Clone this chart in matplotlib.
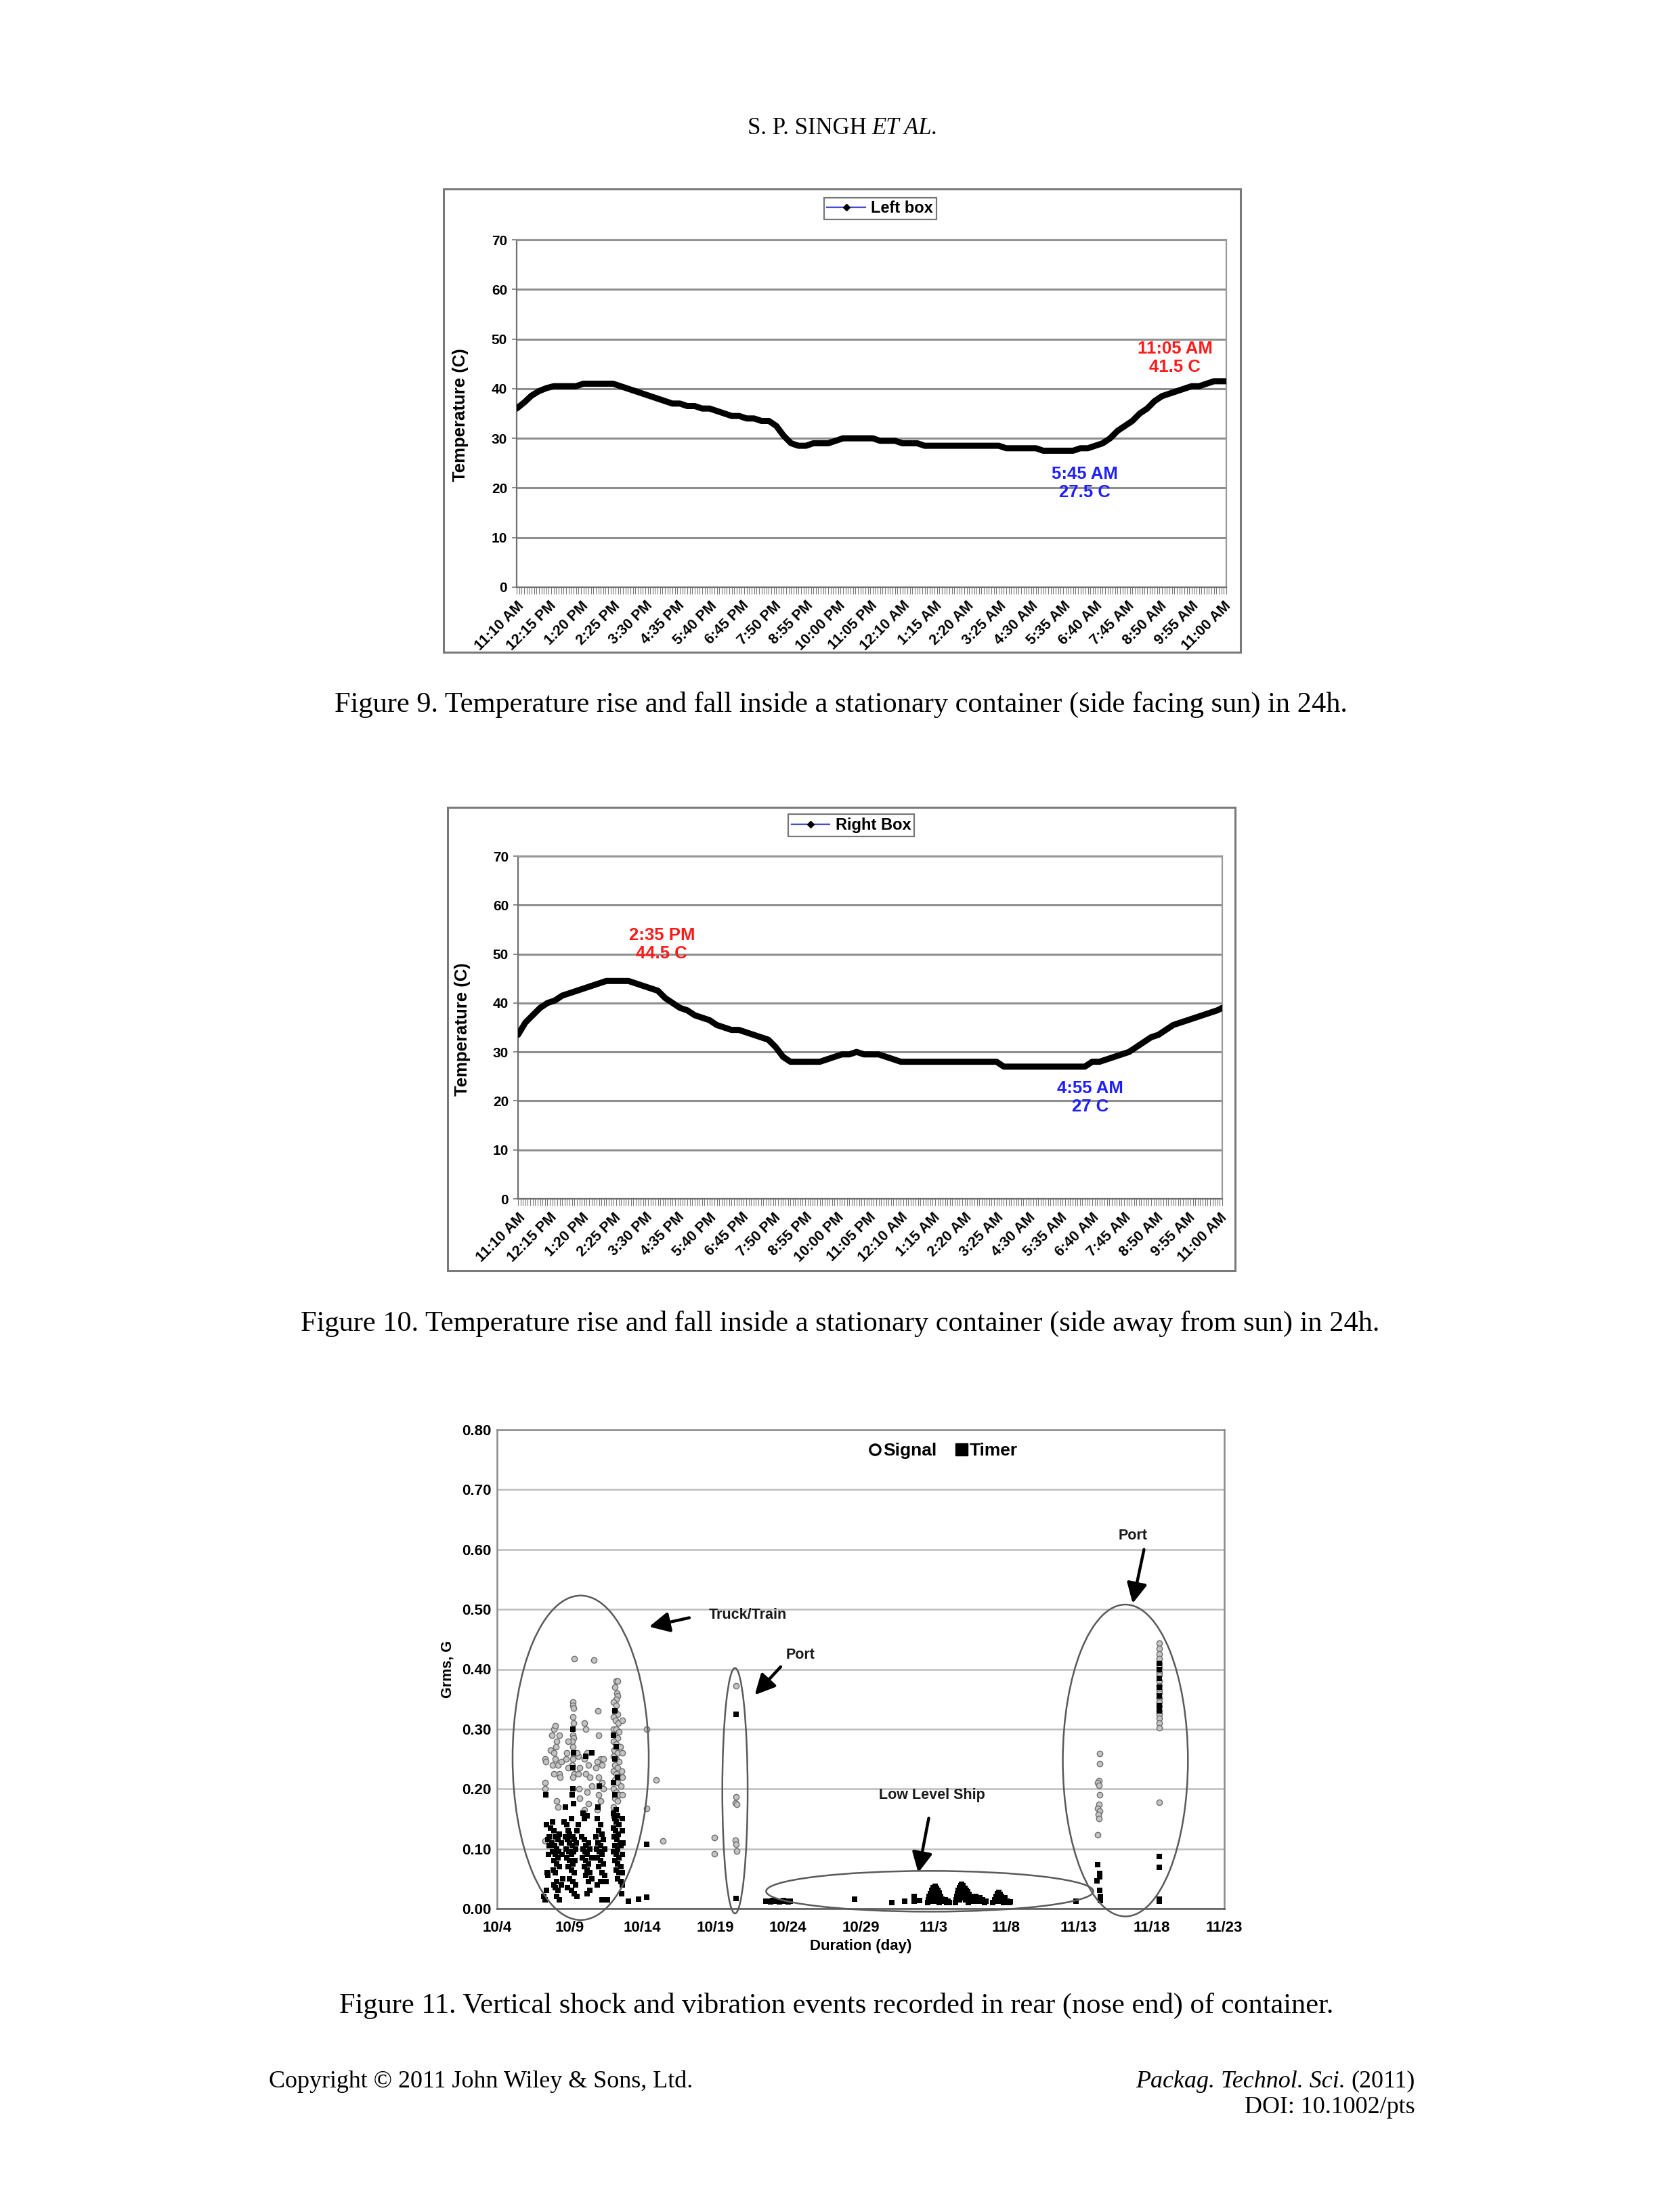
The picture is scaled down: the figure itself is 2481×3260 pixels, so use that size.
import numpy as np
import matplotlib
matplotlib.use("Agg")
import matplotlib.pyplot as plt
from matplotlib.patches import Ellipse, Rectangle
from matplotlib.lines import Line2D

plt.rcParams['font.family'] = ['Liberation Sans', 'DejaVu Sans']
plt.rcParams['font.weight'] = 'bold'
SERIF = ['Liberation Serif', 'DejaVu Serif']

# ---------------- Figures 9 and 10: temperature over 24 h ----------------
time_labels = ["11:10 AM", "12:15 PM", "1:20 PM", "2:25 PM", "3:30 PM", "4:35 PM",
               "5:40 PM", "6:45 PM", "7:50 PM", "8:55 PM", "10:00 PM", "11:05 PM",
               "12:10 AM", "1:15 AM", "2:20 AM", "3:25 AM", "4:30 AM", "5:35 AM",
               "6:40 AM", "7:45 AM", "8:50 AM", "9:55 AM", "11:00 AM"]
label_every = 65          # minutes between labelled categories
log_every = 5             # logger interval, minutes
minutes = list(range(0, 1426, 15)) + [1435]   # minutes after 11:10 AM

left_box = [36.0, 37.2, 38.6, 39.5, 40.1, 40.5, 40.5, 40.5, 40.5, 41.0, 41.0, 41.0,
            41.0, 41.0, 40.5, 40.0, 39.5, 39.0, 38.5, 38.0, 37.5, 37.0, 37.0, 36.5,
            36.5, 36.0, 36.0, 35.5, 35.0, 34.5, 34.5, 34.0, 34.0, 33.5, 33.5, 32.5,
            30.5, 29.0, 28.5, 28.5, 29.0, 29.0, 29.0, 29.5, 30.0, 30.0, 30.0, 30.0,
            30.0, 29.5, 29.5, 29.5, 29.0, 29.0, 29.0, 28.5, 28.5, 28.5, 28.5, 28.5,
            28.5, 28.5, 28.5, 28.5, 28.5, 28.5, 28.0, 28.0, 28.0, 28.0, 28.0, 27.5,
            27.5, 27.5, 27.5, 27.5, 28.0, 28.0, 28.5, 29.0, 30.0, 31.5, 32.5, 33.5,
            35.0, 36.0, 37.5, 38.5, 39.0, 39.5, 40.0, 40.5, 40.5, 41.0, 41.5, 41.5,
            41.5]

right_box = [33.5, 36.0, 37.5, 39.0, 40.0, 40.5, 41.5, 42.0, 42.5, 43.0, 43.5, 44.0,
             44.5, 44.5, 44.5, 44.5, 44.0, 43.5, 43.0, 42.5, 41.0, 40.0, 39.0, 38.5,
             37.5, 37.0, 36.5, 35.5, 35.0, 34.5, 34.5, 34.0, 33.5, 33.0, 32.5, 31.0,
             29.0, 28.0, 28.0, 28.0, 28.0, 28.0, 28.5, 29.0, 29.5, 29.5, 30.0, 29.5,
             29.5, 29.5, 29.0, 28.5, 28.0, 28.0, 28.0, 28.0, 28.0, 28.0, 28.0, 28.0,
             28.0, 28.0, 28.0, 28.0, 28.0, 28.0, 27.0, 27.0, 27.0, 27.0, 27.0, 27.0,
             27.0, 27.0, 27.0, 27.0, 27.0, 27.0, 28.0, 28.0, 28.5, 29.0, 29.5, 30.0,
             31.0, 32.0, 33.0, 33.5, 34.5, 35.5, 36.0, 36.5, 37.0, 37.5, 38.0, 38.5,
             39.0]

# ---------------- Figure 11: Grms events (day 0 = 10/4) ----------------
day_labels = ["10/4", "10/9", "10/14", "10/19", "10/24", "10/29", "11/3", "11/8",
              "11/13", "11/18", "11/23"]

truck_signal = [
    (3.3, .25), (3.35, .245), (3.3, .21), (3.3, .20), (3.3, .113),
    (3.9, .30), (4.0, .305), (4.3, .29), (3.75, .29), (4.1, .28), (4.05, .27), (3.7, .265),
    (3.9, .26), (4.0, .25), (3.8, .24), (4.2, .24), (4.3, .225), (4.4, .245), (3.9, .225),
    (4.35, .22), (4.1, .18), (4.2, .17),
    (5.2, .345), (5.2, .34), (5.25, .335), (5.2, .32), (5.25, .31), (5.2, .29), (5.25, .285),
    (5.15, .28), (5.2, .27), (5.25, .255), (5.2, .25), (5.15, .24), (5.3, .225), (5.2, .22),
    (4.9, .28), (4.8, .26), (4.75, .25), (4.9, .235),
    (5.6, .255), (5.5, .26), (5.7, .235), (5.6, .225), (5.65, .20), (5.7, .185),
    (6.0, .31), (6.1, .30), (6.2, .26), (6.0, .25), (6.3, .24), (6.1, .225), (6.4, .22),
    (6.2, .195), (6.5, .205), (6.3, .175), (6.0, .165),
    (6.95, .33), (7.0, .29), (7.1, .25), (6.9, .245), (7.2, .24), (7.3, .25), (7.0, .22),
    (6.8, .235), (7.2, .21), (7.0, .19), (7.1, .18), (6.9, .165), (7.3, .20),
    (5.3, .417), (6.65, .415),
    (8.2, .38), (8.3, .38), (8.1, .37), (8.25, .36), (8.3, .355), (8.2, .35), (8.0, .345),
    (8.2, .34), (8.1, .33), (8.3, .325), (8.0, .32), (8.15, .315), (8.35, .31), (8.6, .315),
    (8.0, .30), (8.2, .30), (8.4, .295), (8.1, .29), (8.3, .285), (8.0, .28), (8.2, .275),
    (8.45, .27), (8.05, .265), (8.3, .26), (8.6, .26), (8.0, .255), (8.2, .25), (8.4, .245),
    (8.1, .24), (8.3, .235), (8.55, .23), (8.0, .23), (8.2, .225), (8.4, .22), (8.6, .22),
    (8.1, .215), (8.3, .21), (8.5, .205), (8.0, .20), (8.2, .195), (8.4, .19), (8.6, .19),
    (8.1, .185), (8.3, .18), (8.0, .17),
    (10.3, .30), (10.3, .167), (10.95, .215), (11.4, .113)]

truck_timer = [
    (3.2, .02), (3.3, .015), (3.4, .03), (3.5, .055), (3.45, .06), (3.55, .09), (3.6, .105),
    (3.5, .115), (3.6, .12), (3.4, .14), (3.7, .135),
    (3.8, .145), (3.9, .13), (4.0, .12), (3.75, .11), (3.95, .105), (4.1, .10), (3.8, .095),
    (4.0, .09), (4.2, .085), (3.9, .08), (4.1, .075), (4.3, .07), (3.85, .065), (4.0, .06),
    (4.2, .115), (4.3, .125), (4.4, .11), (4.25, .095), (4.45, .09), (4.1, .045), (4.0, .035),
    (4.2, .03), (4.1, .02), (3.9, .04), (4.4, .04), (4.5, .05),
    (4.6, .145), (4.8, .14), (4.9, .13), (5.0, .125), (5.1, .15), (5.2, .12), (4.7, .12),
    (4.85, .115), (5.0, .11), (5.15, .105), (5.3, .115), (4.75, .10), (4.95, .095), (5.1, .09),
    (5.25, .095), (5.4, .10), (4.8, .085), (5.0, .08), (5.2, .075), (5.35, .08), (4.9, .07),
    (5.1, .065), (5.3, .06), (5.0, .05), (5.2, .045), (5.4, .04), (4.85, .035), (5.3, .025),
    (5.5, .02), (5.1, .03), (5.6, .14), (5.5, .13), (5.45, .11),
    (5.9, .16), (6.0, .15), (6.2, .155), (5.8, .12), (6.0, .115), (6.1, .105), (6.3, .11),
    (5.9, .10), (6.05, .095), (6.2, .09), (6.4, .10), (5.85, .085), (6.1, .08), (6.3, .075),
    (6.5, .085), (6.0, .07), (6.2, .065), (6.4, .06), (6.1, .055), (6.3, .045), (6.5, .05),
    (6.4, .03), (6.2, .025),
    (6.9, .15), (7.1, .14), (7.0, .13), (6.8, .12), (7.2, .125), (6.95, .11), (7.1, .105),
    (7.3, .115), (6.85, .10), (7.05, .095), (7.2, .09), (7.4, .10), (6.9, .085), (7.1, .08),
    (7.3, .075), (7.0, .07), (7.2, .06), (7.4, .055), (7.1, .045), (7.3, .045), (6.9, .04),
    (7.5, .045), (7.2, .015), (7.6, .015),
    (8.0, .16), (8.1, .15), (8.3, .155), (8.2, .145), (8.4, .14), (8.0, .135), (8.15, .13),
    (8.35, .125), (8.05, .12), (8.25, .115), (8.45, .11), (8.1, .105), (8.3, .10), (8.5, .105),
    (8.0, .095), (8.2, .09), (8.4, .085), (8.6, .09), (8.1, .08), (8.3, .075), (8.5, .07),
    (8.2, .065), (8.4, .06), (8.6, .06), (8.3, .05), (8.5, .045), (8.6, .04), (8.55, .025),
    (8.6, .13), (8.65, .11), (8.6, .15),
    (5.2, .30), (5.25, .26), (5.2, .235), (5.15, .19), (5.2, .20), (5.25, .175), (6.5, .26),
    (6.1, .255), (8.1, .33), (8.0, .29), (8.2, .27), (8.1, .25), (8.3, .22), (8.0, .21),
    (8.1, .19), (8.2, .165), (8.05, .155), (3.35, .19), (4.7, .17), (7.05, .205), (6.95, .17),
    (9.05, .012), (9.75, .016), (10.3, .019), (4.3, .015), (10.27, .108)]

port1_signal = [(16.45, .372), (16.45, .187), (16.37, .176), (16.47, .174), (14.95, .119),
                (14.95, .092), (16.37, .114), (16.45, .108), (16.47, .096)]
port1_timer = [(16.45, .325), (16.45, .017)]

ship_timer = [
    (18.5, .012), (18.65, .013), (18.8, .011), (18.95, .014), (19.1, .012), (19.25, .013),
    (19.4, .011), (19.55, .012), (19.7, .014), (19.85, .012), (20.0, .011), (20.15, .012),
    (24.57, .016), (27.13, .010), (28.03, .012), (28.68, .020), (28.68, .012), (29.07, .014),
    (29.6, .010), (29.65, .015), (29.7, .02), (29.75, .012), (29.8, .025), (29.85, .018),
    (29.9, .03), (29.95, .022), (30.0, .035), (30.05, .028), (30.1, .037), (30.15, .03),
    (30.2, .034), (30.25, .025), (30.3, .03), (30.35, .02), (30.4, .026), (30.45, .015),
    (30.5, .02), (30.55, .012), (30.6, .016), (30.7, .012), (30.8, .015), (30.9, .01),
    (31.0, .012), (31.1, .01), (30.0, .015), (30.2, .012), (30.4, .01), (29.9, .012),
    (30.1, .02), (30.3, .015),
    (31.5, .01), (31.55, .015), (31.6, .02), (31.65, .025), (31.7, .03), (31.75, .022),
    (31.8, .035), (31.85, .028), (31.9, .038), (31.95, .041), (32.0, .034), (32.05, .038),
    (32.1, .03), (32.15, .034), (32.2, .026), (32.25, .031), (32.3, .022), (32.35, .028),
    (32.4, .018), (32.45, .024), (32.5, .015), (32.55, .02), (32.6, .012), (32.7, .016),
    (32.8, .012), (32.9, .02), (33.0, .014), (33.1, .012), (33.2, .018), (33.3, .012),
    (33.4, .015), (33.5, .01), (33.6, .012), (31.8, .015), (32.0, .02), (32.2, .015),
    (32.4, .01), (31.9, .025), (32.1, .018),
    (34.1, .01), (34.2, .015), (34.3, .02), (34.4, .025), (34.5, .027), (34.6, .024),
    (34.7, .02), (34.8, .016), (34.9, .018), (35.0, .013), (35.1, .012), (35.2, .01),
    (35.3, .011), (34.4, .012), (34.6, .013), (34.8, .01), (39.8, .012)]

port2_signal = [
    (45.55, .443), (45.55, .435), (45.55, .425), (45.55, .418), (45.55, .41), (45.55, .403),
    (45.55, .395), (45.55, .39), (45.55, .38), (45.55, .372), (45.55, .365), (45.55, .36),
    (45.55, .352), (45.55, .345), (45.55, .338), (45.55, .33), (45.55, .325), (45.55, .318),
    (45.55, .31), (45.55, .302), (45.55, .178),
    (41.45, .259), (41.45, .242), (41.4, .214), (41.3, .21), (41.4, .206), (41.45, .19),
    (41.4, .174), (41.3, .168), (41.45, .163), (41.35, .157), (41.4, .150), (41.3, .123)]
port2_timer = [
    (45.55, .41), (45.55, .40), (45.55, .385), (45.55, .37), (45.55, .355), (45.55, .34),
    (45.55, .33), (45.55, .087), (45.55, .069), (45.55, .016), (45.55, .012),
    (41.3, .074), (41.45, .059), (41.45, .053), (41.25, .046), (41.45, .031), (41.5, .02),
    (41.5, .014)]

fig = plt.figure(figsize=(24.81, 32.60), dpi=100)
W, H = 2481.0, 3260.0


def fig_rect(x0, y0, x1, y1):
    # pixel box (top-left origin) -> figure fraction [l, b, w, h]
    return [x0 / W, 1 - y1 / H, (x1 - x0) / W, (y1 - y0) / H]


def temp_chart(plot_box, frame_box, temps, name, legend_x, hi_text, hi_xy, lo_text, lo_xy):
    fr = fig_rect(*frame_box)
    fig.add_artist(Rectangle(fr[:2], fr[2], fr[3], transform=fig.transFigure,
                             fill=False, ec='#7a7a7a', lw=2.2))
    ax = fig.add_axes(fig_rect(*plot_box))
    ax.plot(minutes, temps, color='k', lw=6.5, solid_joinstyle='round',
            solid_capstyle='round', zorder=3)
    ax.set_xlim(0, 1435)
    ax.set_ylim(0, 70)
    ax.set_yticks(range(0, 71, 10))
    ax.set_xticks(np.arange(len(time_labels)) * label_every)
    ax.set_xticks(np.arange(0, 1436, log_every), minor=True)
    ax.set_xticklabels(time_labels, rotation=45, ha='right', va='top',
                       rotation_mode='anchor', fontsize=15.5)
    ax.tick_params(axis='x', which='both', length=7, width=0.8, color='#777777', pad=5)
    ax.tick_params(axis='y', length=5, width=1.2, color='#777777', labelsize=15, pad=5)
    ax.yaxis.grid(True, color='#8f8f8f', lw=2.2)
    ax.set_axisbelow(True)
    for s in ax.spines.values():
        s.set_color('#9a9a9a')
        s.set_linewidth(1.6)
    ax.spines['left'].set_color('#707070')
    ax.spines['bottom'].set_color('#707070')
    ax.text(-0.079, 0.495, 'Temperature (C)', transform=ax.transAxes, rotation=90,
            ha='center', va='center', fontsize=18.5)
    handle = Line2D([], [], color='#4a4ad0', lw=1.6, marker='D', ms=5, mfc='k', mec='k')
    leg = ax.legend([handle], [name], loc='center', bbox_to_anchor=(legend_x, 1.09),
                    frameon=True, fancybox=False, fontsize=17, handlelength=2.4,
                    borderpad=0.2, handletextpad=0.35, borderaxespad=0)
    leg.get_frame().set_edgecolor('#555555')
    leg.get_frame().set_linewidth(1.6)
    ax.text(*hi_xy, hi_text, color='#ff1a1a', fontsize=18.5, ha='center', va='center',
            linespacing=1.15, zorder=4)
    ax.text(*lo_xy, lo_text, color='#1f1fff', fontsize=18.5, ha='center', va='center',
            linespacing=1.15, zorder=4)
    return ax


temp_chart((763, 354, 1811, 867), (655, 279, 1832, 963), left_box, 'Left box', 0.512,
           '11:05 AM\n41.5 C', (1331, 46.2), '5:45 AM\n27.5 C', (1149, 21.0))
temp_chart((765, 1264, 1805, 1770), (661, 1192, 1824, 1876), right_box, 'Right Box', 0.473,
           '2:35 PM\n44.5 C', (293, 52.0), '4:55 AM\n27 C', (1166, 20.7))

# ---------------- Figure 11 ----------------
ax = fig.add_axes(fig_rect(734, 2111, 1808, 2818))
sig = np.array(truck_signal + port1_signal + port2_signal)
tim = np.array(truck_timer + port1_timer + ship_timer + port2_timer)
ax.scatter(sig[:, 0], sig[:, 1], s=36, marker='o', facecolor='#c4c4c4', edgecolor='#6e6e6e',
           linewidth=1.0, zorder=3)
ax.scatter(tim[:, 0], tim[:, 1], s=30, marker='s', color='k', linewidth=0, zorder=3)
ax.set_xlim(0, 50)
ax.set_ylim(0, 0.8)
ax.set_xticks(np.arange(len(day_labels)) * 5)
ax.set_xticklabels(day_labels, fontsize=16)
ax.set_yticks(np.arange(0, 0.81, 0.1))
ax.set_yticklabels(['%.2f' % v for v in np.arange(0, 0.81, 0.1)], fontsize=16)
ax.tick_params(axis='x', length=0, pad=13)
ax.tick_params(axis='y', length=0, pad=6)
ax.yaxis.grid(True, color='#bdbdbd', lw=1.8)
ax.set_axisbelow(True)
for s in ax.spines.values():
    s.set_color('#8a8a8a')
    s.set_linewidth(1.8)
ax.spines['bottom'].set_color('#555555')
ax.text(-0.068, 0.5, 'Grms, G', transform=ax.transAxes, rotation=90, ha='center',
        va='center', fontsize=15.5)
ax.text(0.5, -0.079, 'Duration (day)', transform=ax.transAxes, ha='center', va='center',
        fontsize=16)

ellipses = [((5.75, 0.252), 9.36, 0.542), ((16.36, 0.197), 1.74, 0.41),
            ((29.75, 0.029), 22.5, 0.068), ((43.2, 0.2475), 8.6, 0.521)]
for c, w, h in ellipses:
    ax.add_patch(Ellipse(c, w, h, fill=False, ec='#5a5a5a', lw=1.8, clip_on=False, zorder=4))

notes = [('Truck/Train', (14.57, 0.49), 'left', (13.22, 0.486), (10.46, 0.471)),
         ('Port', (19.88, 0.424), 'left', (19.5, 0.404), (17.72, 0.357)),
         ('Low Level Ship', (29.9, 0.19), 'center', (29.68, 0.151), (28.96, 0.06)),
         ('Port', (43.7, 0.623), 'center', (44.48, 0.60), (43.7, 0.51))]
for label, pos, ha, tail, head in notes:
    ax.text(*pos, label, ha=ha, va='center', fontsize=15.5, color='#1a1a1a')
    ax.annotate('', xy=head, xytext=tail,
                arrowprops=dict(arrowstyle='-|>,head_length=0.9,head_width=0.45', lw=3.2,
                                color='k', shrinkA=0, shrinkB=0, mutation_scale=20))

hs = [Line2D([], [], ls='', marker='o', ms=11, mfc='white', mec='k', mew=2.4),
      Line2D([], [], ls='', marker='s', ms=13, mfc='k', mec='k')]
ax.legend(hs, ['Signal', 'Timer'], loc='center', bbox_to_anchor=(0.613, 0.956), ncol=2,
          frameon=False, fontsize=19, handlelength=0.8, handletextpad=0.05,
          columnspacing=1.0, borderaxespad=0)

# ---------------- page text ----------------
renderer = fig.canvas.get_renderer()


def page_text(x_px, y_px, s, size, width_px=None, **kw):
    t = fig.text(x_px / W, 1 - y_px / H, s, fontsize=size, family=SERIF,
                 fontweight='normal', va='center', **kw)
    if width_px:
        w = t.get_window_extent(renderer).width
        t.set_fontsize(size * width_px / w)
    return t


def left_edge_px(t):
    return t.get_window_extent(renderer).x0


page_text(1280, 189, 'S. P. SINGH', 25, ha='right')
page_text(1287, 189, 'ET AL.', 25, ha='left', style='italic')
page_text(1242, 1040, 'Figure 9. Temperature rise and fall inside a stationary container '
          '(side facing sun) in 24h.', 27, width_px=1497, ha='center')
page_text(1241, 1954, 'Figure 10. Temperature rise and fall inside a stationary container '
          '(side away from sun) in 24h.', 27, width_px=1595, ha='center')
page_text(1235, 2961, 'Figure 11. Vertical shock and vibration events recorded in rear '
          '(nose end) of container.', 27, width_px=1468, ha='center')
ft = page_text(397, 3073, 'Copyright \u00a9 2011 John Wiley & Sons, Ltd.', 24,
               width_px=628, ha='left')
fs = ft.get_fontsize()
yr = page_text(2090, 3073, '(2011)', fs, ha='right')
page_text(left_edge_px(yr) - 0.25 * fs * 100 / 72, 3073, 'Packag. Technol. Sci.', fs,
          ha='right', style='italic')
page_text(2090, 3112, 'DOI: 10.1002/pts', fs, ha='right')

fig.savefig('out.png', dpi=100, facecolor='white')
